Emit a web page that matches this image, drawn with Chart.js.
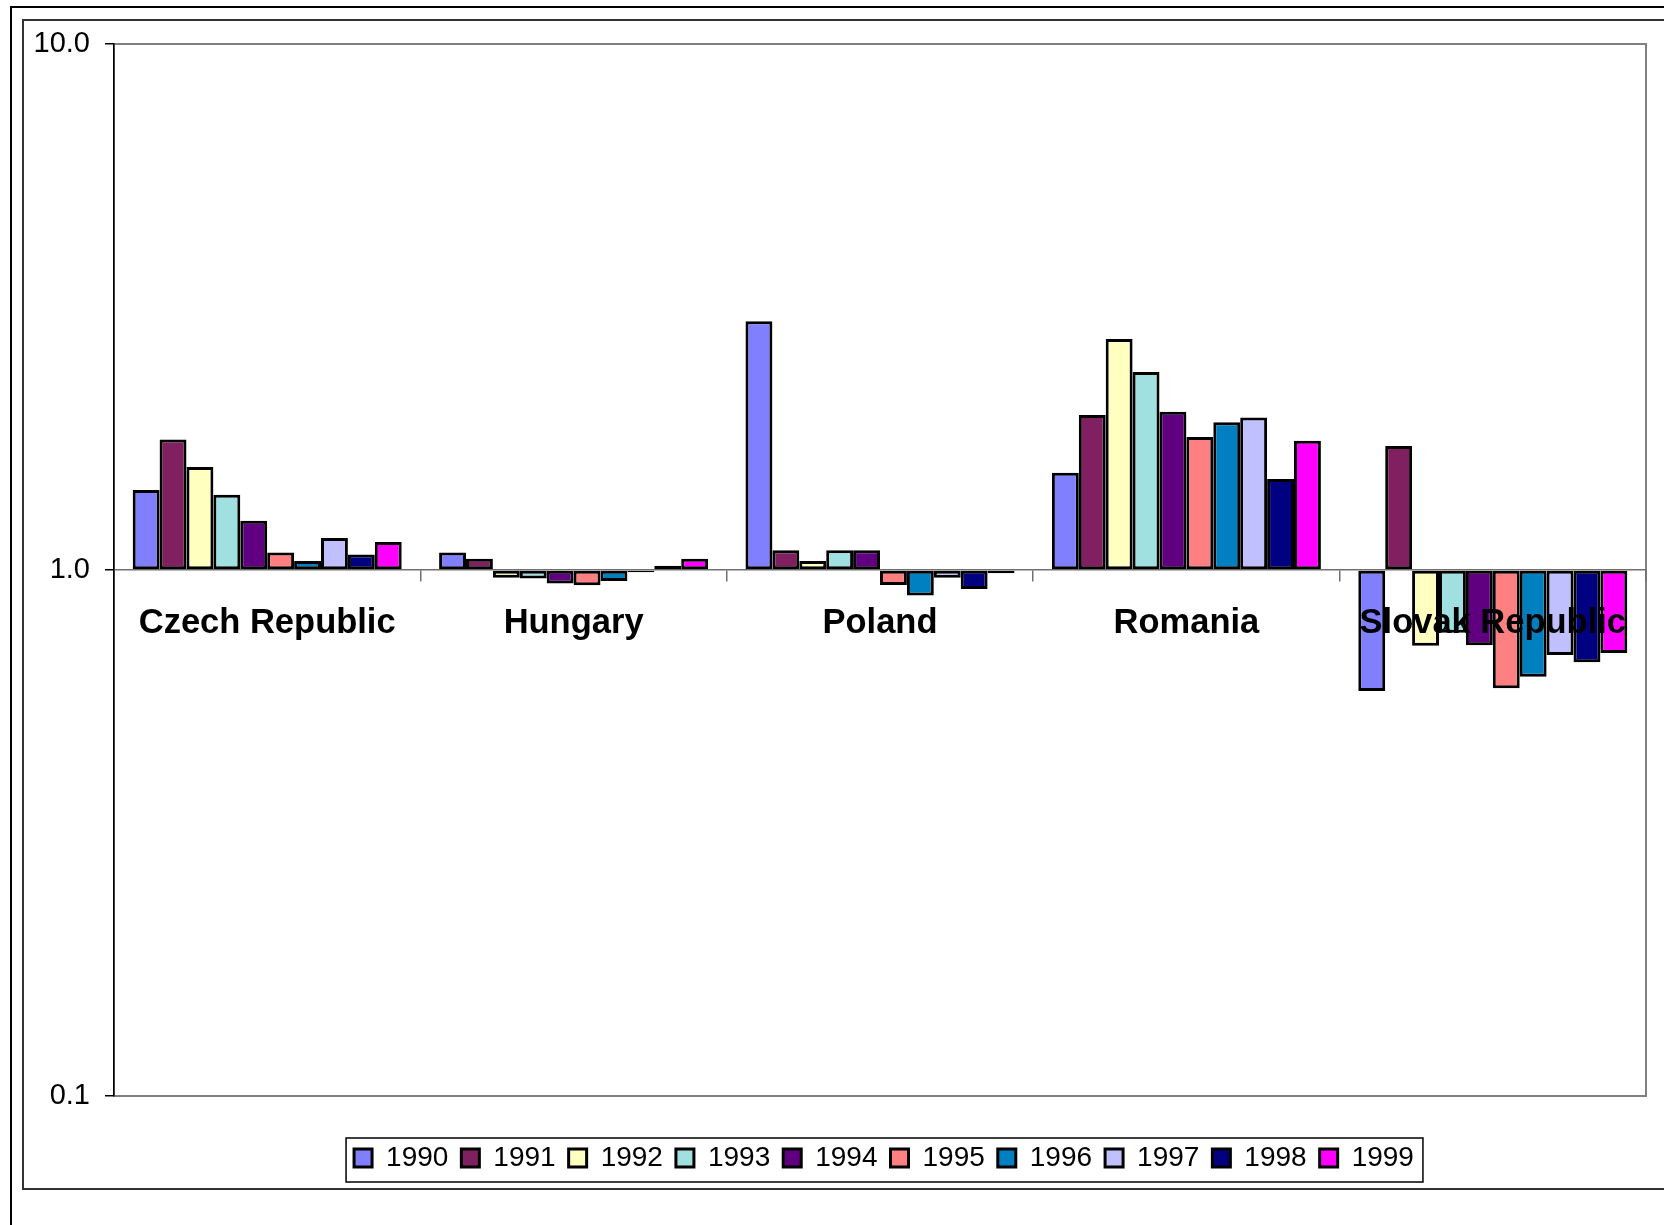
<!DOCTYPE html>
<html>
<head>
<meta charset="utf-8">
<script src="https://cdn.jsdelivr.net/npm/chart.js@4.4.1/dist/chart.umd.min.js"></script>
<style>
  html, body { margin: 0; padding: 0; background: #fff; overflow: hidden; }
  body { width: 1664px; height: 1225px; position: relative; }
  .frame-outer { position: absolute; left: 10px; top: 6px; width: 1720px; height: 1300px; border: 2px solid #000; }
  .frame-inner { position: absolute; left: 22px; top: 19px; width: 1700px; height: 1167px; border: 2px solid #333; }
  #chart { position: absolute; left: 0; top: 0; }
</style>
</head>
<body>
<div class="frame-outer"></div>
<div class="frame-inner"></div>
<canvas id="chart" width="1664" height="1225"></canvas>
<script>
const COUNTRIES = ['Czech Republic', 'Hungary', 'Poland', 'Romania', 'Slovak Republic'];
const YEARS = ['1990', '1991', '1992', '1993', '1994', '1995', '1996', '1997', '1998', '1999'];
const Y_TICKS = [0.1, 1, 10];

// one array per year, values in country order
const V1990 = [1.42, 1.08, 2.97, 1.53, 0.589];
const V1991 = [1.77, 1.05, 1.09, 1.97, 1.72];
const V1992 = [1.57, 0.967, 1.04, 2.75, 0.718];
const V1993 = [1.39, 0.964, 1.09, 2.38, 0.76];
const V1994 = [1.24, 0.943, 1.09, 2.00, 0.719];
const V1995 = [1.08, 0.935, 0.936, 1.79, 0.596];
const V1996 = [1.04, 0.953, 0.894, 1.91, 0.627];
const V1997 = [1.15, 0.99, 0.967, 1.95, 0.689];
const V1998 = [1.07, 1.019, 0.92, 1.49, 0.668];
const V1999 = [1.13, 1.05, 0.986, 1.76, 0.695];

const SERIES = [V1990, V1991, V1992, V1993, V1994, V1995, V1996, V1997, V1998, V1999];
const COLORS = ['#8080ff', '#802060', '#ffffc0', '#a0e0e0', '#600080',
                '#ff8080', '#0080c0', '#c0c0ff', '#000080', '#ff00ff'];

const FONT = '"Liberation Sans", Arial, sans-serif';
Chart.defaults.font.family = FONT;

const plotFrame = {
  id: 'plotFrame',
  beforeDraw(chart) {
    const { ctx, chartArea: a } = chart;
    ctx.save();
    ctx.strokeStyle = '#808080';
    ctx.lineWidth = 2;
    ctx.strokeRect(a.left, a.top, a.right - a.left, a.bottom - a.top);
    ctx.restore();
  },
};

// nudge the legend a little to the right, like the original
const legendShift = {
  id: 'legendShift',
  afterLayout(chart) {
    if (!chart.legend) return;
    chart.legend.left += 4;
    chart.legend.right += 4;
  },
};

const legendFrame = {
  id: 'legendFrame',
  afterDraw(chart) {
    const boxes = chart.legend && chart.legend.legendHitBoxes;
    if (!boxes || !boxes.length) return;
    const first = boxes[0];
    const last = boxes[boxes.length - 1];
    const left = first.left - 8;
    const right = last.left + last.width + 9;
    const top = first.top - 6;
    const bottom = first.top + 38;
    const { ctx } = chart;
    ctx.save();
    ctx.strokeStyle = '#000';
    ctx.lineWidth = 1.5;
    ctx.strokeRect(left, top, right - left, bottom - top);
    ctx.restore();
  },
};

new Chart(document.getElementById('chart'), {
  type: 'bar',
  data: {
    labels: COUNTRIES,
    datasets: YEARS.map((year, i) => ({
      label: year,
      data: SERIES[i],
      base: 1,
      backgroundColor: COLORS[i],
      borderColor: '#000',
      borderWidth: 3,
      borderSkipped: false,
      categoryPercentage: 0.878,
      barPercentage: 1,
    })),
  },
  options: {
    responsive: false,
    animation: false,
    layout: { padding: { left: 0, right: 18, top: 44, bottom: 43 } },
    plugins: {
      tooltip: { enabled: false },
      legend: {
        position: 'bottom',
        fullSize: false,
        title: { display: true, text: '', padding: { top: 33.8, bottom: 0 }, font: { size: 1 } },
        labels: {
          boxWidth: 18,
          boxHeight: 18,
          padding: 13,
          color: '#000',
          font: { family: FONT, size: 28 },
        },
      },
    },
    scales: {
      x: {
        position: { y: 1 },
        offset: true,
        afterFit: (s) => { s.paddingLeft = 0; s.paddingRight = 0; },
        ticks: {
          z: 1,
          color: '#000',
          font: { family: FONT, size: 34.5, weight: 'bold' },
          padding: 22,
          maxRotation: 0,
          autoSkip: false,
        },
        grid: { offset: true, drawOnChartArea: false, tickLength: 11, color: '#707070', lineWidth: 1.5 },
        border: { color: '#707070', width: 1.5 },
      },
      y: {
        type: 'logarithmic',
        min: 0.1,
        max: 10,
        afterBuildTicks: (s) => { s.ticks = Y_TICKS.map((v) => ({ value: v })); },
        afterFit: (s) => { s.width = 114; s.paddingTop = 0; s.paddingBottom = 0; },
        ticks: {
          color: '#000',
          font: { family: FONT, size: 29 },
          padding: 15,
          callback: (v) => Number(v).toFixed(1),
        },
        grid: { drawOnChartArea: false, tickLength: 9, color: '#000', lineWidth: 1.5 },
        border: { color: '#000', width: 1.5 },
      },
    },
  },
  plugins: [plotFrame, legendShift, legendFrame],
});
</script>
</body>
</html>
